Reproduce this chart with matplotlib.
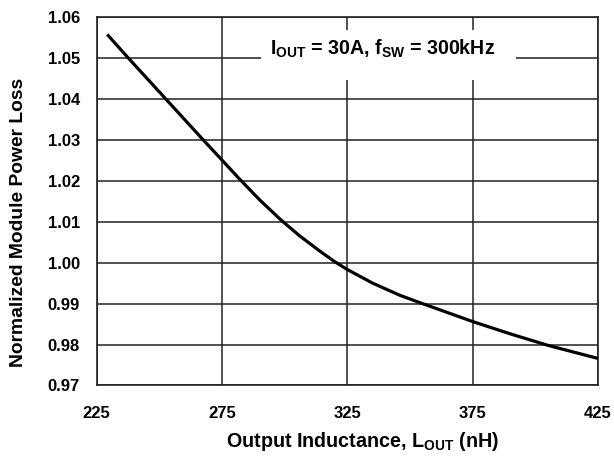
import matplotlib
matplotlib.use("Agg")
import matplotlib.pyplot as plt
from matplotlib.patches import Rectangle

plt.rcParams['font.family'] = ['Liberation Sans', 'DejaVu Sans']
plt.rcParams['font.weight'] = 'bold'
plt.rcParams['mathtext.fontset'] = 'custom'
plt.rcParams['mathtext.rm'] = 'Liberation Sans:bold'
plt.rcParams['mathtext.it'] = 'Liberation Sans:bold'
plt.rcParams['mathtext.bf'] = 'Liberation Sans:bold'

# Data
inductance_nH = [229.6, 237.2, 252.9, 266.8, 275, 281.8, 290, 298.5, 306, 314,
                 320, 325, 335, 346, 354, 375, 390, 405, 425]
norm_loss = [1.0554, 1.0502, 1.0397, 1.0304, 1.0250, 1.0205, 1.0153, 1.0104, 1.0065, 1.0028,
             1.0002, 0.9983, 0.9950, 0.9920, 0.9902, 0.9856, 0.9826, 0.9798, 0.9766]

x_ticks = [225, 275, 325, 375, 425]
y_ticks = [0.97, 0.98, 0.99, 1.00, 1.01, 1.02, 1.03, 1.04, 1.05, 1.06]

fig = plt.figure(figsize=(6.14, 4.58), dpi=100)
ax = fig.add_axes([0.1575, 0.1583, 0.8165, 0.8052])

ax.plot(inductance_nH, norm_loss, color='black', lw=2.3, solid_joinstyle='round', zorder=3)

ax.set_xlim(225, 425)
ax.set_ylim(0.97, 1.06)
ax.set_xticks(x_ticks)
ax.set_yticks(y_ticks)
ax.set_xticklabels([str(v) for v in x_ticks])
ax.set_yticklabels([f"{v:.2f}" for v in y_ticks])
ax.grid(True, color='#222222', lw=1.1)
ax.set_axisbelow(True)
ax.tick_params(axis='both', length=0, labelsize=12)
ax.tick_params(axis='y', pad=12)
ax.tick_params(axis='x', pad=15)
for s in ax.spines.values():
    s.set_color('#222222')
    s.set_linewidth(1.2)

ax.set_xlabel(r"Output Inductance, L$_{\mathrm{OUT}}$ (nH)", fontsize=14.2, fontweight='bold', va='center')
ax.xaxis.set_label_coords(0.530, -0.152)
ax.set_ylabel("Normalized Module Power Loss", fontsize=13.9, fontweight='bold', va='center')
ax.yaxis.set_label_coords(-0.155, 0.443)

# white box behind the annotation (covers grid lines)
ax.add_patch(Rectangle((290.7, 1.0446), 101.6, 0.0122, facecolor='white', edgecolor='none', zorder=2))
ax.text(339.2, 1.0507, r"I$_{\mathrm{OUT}}$ = 30A, f$_{\mathrm{SW}}$ = 300kHz",
        fontsize=14.1, fontweight='bold', ha='center', va='baseline', zorder=4)

fig.savefig("out.png", dpi=100)
